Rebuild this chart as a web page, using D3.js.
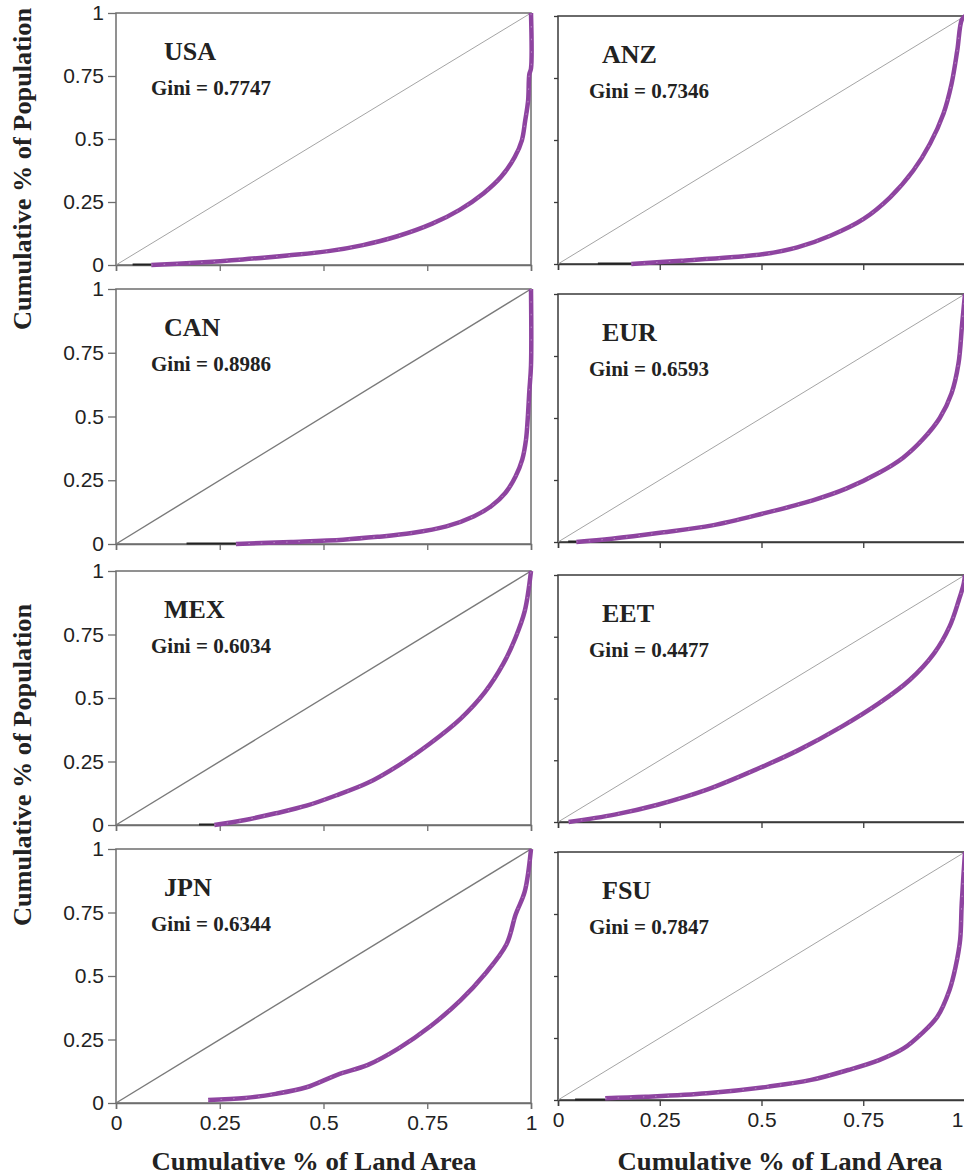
<!DOCTYPE html>
<html><head><meta charset="utf-8">
<script src="https://cdn.jsdelivr.net/npm/d3@7"></script>
<style>body{margin:0;background:#fff}svg{display:block}</style>
</head><body>
<svg id="chart" width="964" height="1176"></svg>
<script>
// ---- data ----
const regions = ["USA", "ANZ", "CAN", "EUR", "MEX", "EET", "JPN", "FSU"];
const giniValues = ["0.7747", "0.7346", "0.8986", "0.6593", "0.6034", "0.4477", "0.6344", "0.7847"];
const tickValues = [0, 0.25, 0.5, 0.75, 1];
const tickLabels = ["0", "0.25", "0.5", "0.75", "1"];
const yTitle = "Cumulative % of Population";
const xTitle = "Cumulative % of Land Area";

const landUSA = [0.085, 0.19, 0.305, 0.413, 0.512, 0.595, 0.678, 0.762, 0.828, 0.886, 0.928, 0.961, 0.978, 0.986, 0.993, 0.996, 1.0, 1.0];
const popUSA  = [0, 0.009, 0.022, 0.038, 0.055, 0.079, 0.114, 0.164, 0.219, 0.285, 0.35, 0.429, 0.495, 0.573, 0.652, 0.757, 0.78, 1.0];
const landANZ = [0.18, 0.302, 0.424, 0.506, 0.588, 0.669, 0.751, 0.816, 0.873, 0.914, 0.947, 0.967, 0.981, 0.992, 1.0];
const popANZ  = [0, 0.013, 0.027, 0.04, 0.067, 0.114, 0.182, 0.269, 0.377, 0.485, 0.606, 0.727, 0.861, 0.985, 1.0];
const landCAN = [0.289, 0.422, 0.547, 0.63, 0.713, 0.796, 0.863, 0.904, 0.938, 0.963, 0.979, 0.988, 0.992, 0.996, 1.0, 1.0];
const popCAN  = [0, 0.008, 0.017, 0.028, 0.043, 0.069, 0.109, 0.148, 0.2, 0.266, 0.332, 0.41, 0.489, 0.6, 0.7, 1.0];
const landEUR = [0.045, 0.132, 0.255, 0.379, 0.502, 0.626, 0.708, 0.79, 0.848, 0.897, 0.938, 0.967, 0.984, 0.993, 1.0];
const popEUR  = [0, 0.013, 0.038, 0.067, 0.114, 0.168, 0.215, 0.28, 0.34, 0.415, 0.5, 0.6, 0.72, 0.88, 1.0];
const landMEX = [0.237, 0.311, 0.385, 0.459, 0.533, 0.607, 0.681, 0.756, 0.83, 0.889, 0.933, 0.963, 0.985, 1.0];
const popMEX  = [0, 0.02, 0.046, 0.076, 0.118, 0.166, 0.235, 0.32, 0.418, 0.523, 0.634, 0.739, 0.843, 1.0];
const landEET = [0.026, 0.139, 0.245, 0.366, 0.486, 0.592, 0.698, 0.789, 0.864, 0.924, 0.962, 0.985, 0.997, 1.0];
const popEET  = [0, 0.03, 0.07, 0.131, 0.212, 0.292, 0.387, 0.481, 0.575, 0.683, 0.791, 0.899, 0.966, 1.0];
const landJPN = [0.222, 0.311, 0.385, 0.459, 0.533, 0.607, 0.681, 0.756, 0.83, 0.889, 0.941, 0.963, 0.985, 1.0];
const popJPN  = [0.012, 0.02, 0.036, 0.062, 0.111, 0.15, 0.215, 0.3, 0.404, 0.508, 0.625, 0.742, 0.833, 1.0];
const landFSU = [0.116, 0.215, 0.366, 0.517, 0.622, 0.713, 0.789, 0.849, 0.894, 0.932, 0.962, 0.977, 0.988, 0.992, 1.0];
const popFSU  = [0.007, 0.013, 0.027, 0.054, 0.081, 0.121, 0.161, 0.208, 0.269, 0.336, 0.444, 0.538, 0.645, 0.793, 1.0];
// short near-zero stretch drawn dark on the baseline: [from, to] land share
const zeroRuns = [[0.04, 0.085], [0.098, 0.18], [0.17, 0.289], [0.025, 0.045], [0.2, 0.237], null, null, [0.042, 0.116]];

const landSeries = [landUSA, landANZ, landCAN, landEUR, landMEX, landEET, landJPN, landFSU];
const popSeries  = [popUSA, popANZ, popCAN, popEUR, popMEX, popEET, popJPN, popFSU];

// ---- layout ----
const cols = [{x0: 116, x1: 531}, {x0: 558, x1: 965}];
const rowsY = [
  [[265, 13], [264, 16]],
  [[544, 289], [542, 294]],
  [[825, 571], [822, 575]],
  [[1103, 849], [1100, 852]]
];
const PURPLE = "#8e44a0";
const SERIF = "'Liberation Serif','Times New Roman',serif";
const SANS = "'Liberation Sans',Arial,sans-serif";
const W = 964;

const svg = d3.select("#chart");
const fmt = v => tickLabels[tickValues.indexOf(v)];

regions.forEach((name, i) => {
  const c = i % 2, r = Math.floor(i / 2);
  const isLeft = c === 0, isBottom = r === 3;
  const x = d3.scaleLinear().domain([0, 1]).range([cols[c].x0, cols[c].x1]);
  const y = d3.scaleLinear().domain([0, 1]).range(rowsY[r][c]);
  const g = svg.append("g");
  const frameCol = isLeft ? "#6e6e6e" : "#3a3a3a";

  // frame
  g.append("rect")
    .attr("x", x(0)).attr("y", y(1))
    .attr("width", x(1) - x(0)).attr("height", y(0) - y(1))
    .attr("fill", "none").attr("stroke", frameCol).attr("stroke-width", 1.5);

  // y axis ticks
  const ya = g.append("g").attr("transform", `translate(${x(0)},0)`)
    .call(d3.axisLeft(y).tickValues(tickValues).tickSize(isLeft ? 8 : 4).tickPadding(4)
      .tickFormat(isLeft ? fmt : () => ""));
  ya.select(".domain").remove();
  ya.selectAll("line").attr("stroke", frameCol).attr("stroke-width", 1.3);
  ya.selectAll("text").attr("font-family", SANS).attr("font-size", 21).attr("fill", "#222");

  // x axis ticks
  const xa = g.append("g").attr("transform", `translate(0,${y(0)})`)
    .call(d3.axisBottom(x).tickValues(tickValues).tickSize(6).tickPadding(6)
      .tickFormat(isBottom ? fmt : () => ""));
  xa.select(".domain").attr("stroke", frameCol).attr("stroke-width", 1.5);
  xa.selectAll("line").attr("stroke", frameCol).attr("stroke-width", 1.3);
  xa.selectAll("text").attr("font-family", SANS).attr("font-size", 21).attr("fill", "#222")
    .each(function(v) {
      // keep the last label inside the canvas
      if (x(v) > W - 6) d3.select(this).attr("text-anchor", "end").attr("x", W - 1 - x(v));
    });

  // diagonal (line of equality)
  const thinDiag = !isLeft || i === 0;
  g.append("line")
    .attr("x1", x(0)).attr("y1", y(0)).attr("x2", x(1)).attr("y2", y(1))
    .attr("stroke", thinDiag ? "#9a9a9a" : "#7a7a7a")
    .attr("stroke-width", thinDiag ? 0.9 : 1.4);

  // near-zero dark run
  if (zeroRuns[i]) {
    g.append("line")
      .attr("x1", x(zeroRuns[i][0])).attr("x2", x(zeroRuns[i][1]))
      .attr("y1", y(0) - 0.5).attr("y2", y(0) - 0.5)
      .attr("stroke", "#222").attr("stroke-width", 2);
  }

  // Lorenz curve
  const pts = landSeries[i].map((v, k) => [v, popSeries[i][k]]);
  const line = d3.line().x(d => x(d[0])).y(d => y(d[1])).curve(d3.curveCatmullRom.alpha(0.5));
  g.append("path").datum(pts)
    .attr("d", line).attr("fill", "none")
    .attr("stroke", PURPLE).attr("stroke-width", 4.5)
    .attr("stroke-linejoin", "round");
  g.append("path").datum(pts)
    .attr("d", line).attr("fill", "none")
    .attr("stroke", "#fff").attr("stroke-opacity", 0.45).attr("stroke-width", 0.8)
    .attr("stroke-dasharray", "1.5 11");

  // labels
  g.append("text")
    .attr("x", x(0) + (isLeft ? 48 : 44)).attr("y", y(1) + 47)
    .attr("font-family", SERIF).attr("font-weight", "bold").attr("font-size", 26)
    .attr("fill", "#222").text(name);
  g.append("text")
    .attr("x", x(0) + (isLeft ? 35 : 31)).attr("y", y(1) + 82)
    .attr("font-family", SERIF).attr("font-weight", "bold").attr("font-size", 21)
    .attr("fill", "#222").text("Gini = " + giniValues[i]);
});

// axis titles
[169, 765].forEach(cy => {
  svg.append("text")
    .attr("transform", `translate(31,${cy}) rotate(-90)`)
    .attr("text-anchor", "middle")
    .attr("font-family", SERIF).attr("font-weight", "bold").attr("font-size", 26)
    .attr("fill", "#222")
    .attr("textLength", 322).attr("lengthAdjust", "spacingAndGlyphs")
    .text(yTitle);
});
[314, 780].forEach(cx => {
  svg.append("text")
    .attr("x", cx).attr("y", 1170)
    .attr("text-anchor", "middle")
    .attr("font-family", SERIF).attr("font-weight", "bold").attr("font-size", 26)
    .attr("fill", "#222")
    .attr("textLength", 325).attr("lengthAdjust", "spacingAndGlyphs")
    .text(xTitle);
});
</script>
</body></html>
